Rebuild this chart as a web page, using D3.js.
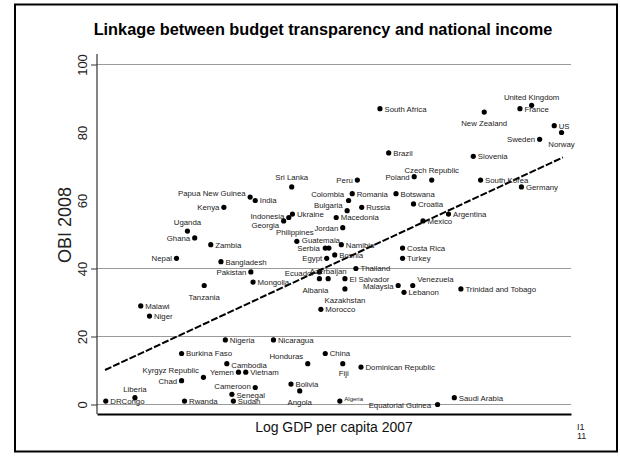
<!DOCTYPE html>
<html>
<head>
<meta charset="utf-8">
<script src="https://cdn.jsdelivr.net/npm/d3@7"></script>
<style>
  html, body { margin: 0; padding: 0; background: #fff; }
  svg { display: block; font-family: "Liberation Sans", Arial, Helvetica, sans-serif; }
</style>
</head>
<body>
<svg id="chart" width="620" height="456"></svg>
<script>
// Open Budget Index 2008 vs log GDP per capita 2007
const countries = [
  "United Kingdom", "France", "New Zealand", "US", "Norway", "Sweden",
  "South Africa", "Brazil", "Slovenia", "Czech Republic", "Poland", "Peru",
  "South Korea", "Germany", "Romania", "Botswana", "Croatia", "Russia",
  "Colombia", "Bulgaria", "Macedonia", "Jordan", "Argentina", "Mexico",
  "Sri Lanka", "India", "Papua New Guinea", "Kenya", "Indonesia", "Ukraine",
  "Georgia", "Philippines", "Guatemala", "Serbia", "Egypt", "Namibia",
  "Bosnia", "Costa Rica", "Turkey", "Thailand", "El Salvador", "Malaysia",
  "Venezuela", "Lebanon", "Trinidad and Tobago", "Kazakhstan", "Morocco", "Ecuador",
  "Albania", "Azerbaijan", "Bangladesh", "Pakistan", "Mongolia", "Tanzania",
  "Malawi", "Niger", "Nepal", "Zambia", "Ghana", "Uganda",
  "Nigeria", "Nicaragua", "Burkina Faso", "Honduras", "China", "Fiji",
  "Dominican Republic", "Cambodia", "Yemen", "Vietnam", "Kyrgyz Republic", "Chad",
  "Liberia", "DRCongo", "Rwanda", "Cameroon", "Senegal", "Sudan",
  "Bolivia", "Angola", "Algeria", "Equatorial Guinea", "Saudi Arabia"
];

const logGdp = [
  10.86, 10.70, 10.21, 11.17, 11.27, 10.97,
  8.78, 8.90, 10.06, 9.49, 9.25, 8.47,
  10.16, 10.72, 8.40, 9.00, 9.24, 8.53,
  8.35, 8.33, 8.18, 8.27, 9.72, 9.37,
  7.57, 7.07, 7.00, 6.64, 7.53, 7.58,
  7.46, 7.64, 8.08, 8.03, 8.05, 8.25,
  8.16, 9.09, 9.09, 8.45, 8.30, 9.03,
  9.23, 9.11, 9.89, 8.30, 7.97, 7.95,
  7.95, 8.07, 6.60, 7.01, 7.04, 6.37,
  5.50, 5.62, 5.99, 6.46, 6.24, 6.14,
  6.66, 7.32, 6.06, 7.79, 8.03, 8.27,
  8.52, 6.68, 6.84, 6.94, 6.36, 6.06,
  5.42, 5.02, 6.10, 7.07, 6.75, 6.77,
  7.56, 7.68, 8.23, 9.57, 9.80
];

const obiScore = [
  88, 87, 86, 82, 80, 78,
  87, 74, 73, 66, 67, 66,
  66, 64, 62, 62, 59, 58,
  60, 57, 55, 52, 56, 54,
  64, 60, 61, 58, 55, 56,
  54, 48, 46, 46, 43, 47,
  44, 46, 43, 40, 37, 35,
  35, 33, 34, 34, 28, 39,
  37, 37, 42, 39, 36, 35,
  29, 26, 43, 47, 49, 51,
  19, 19, 15, 12, 15, 12,
  11, 12, 9.5, 9.5, 8, 7,
  2, 1, 1, 5, 3, 1,
  6, 4, 1, 0, 2
];

// fitted regression line, two end points (log GDP, OBI)
const fitX = [5.01, 11.29];
const fitY = [10.15, 72.7];

const yTickValues = [0, 20, 40, 60, 80, 100];
const gridValues = [0, 20, 40, 100];

const titleText = "Linkage between budget transparency and national income";
const xTitle = "Log GDP per capita 2007";
const yTitle = "OBI 2008";
const footer = ["I1", "11"];

// label placement: r = right, l = left, t = above, b = below, with optional nudge
const labelPlace = {
  "United Kingdom": ["t"], "New Zealand": ["b"], "Norway": ["b"], "Sweden": ["l"],
  "Czech Republic": ["t", 0, -2], "Poland": ["l"], "Peru": ["l"],
  "Colombia": ["l", 0, -6], "Bulgaria": ["l", 0, -6], "Jordan": ["l"],
  "Sri Lanka": ["t", 0, -1], "Papua New Guinea": ["l", 0, -4], "Kenya": ["l"],
  "Indonesia": ["l", 0, -1], "Georgia": ["l", 0, 4], "Philippines": ["t", -2, -1],
  "Guatemala": ["t", -8, 0], "Serbia": ["l", -1, 0], "Egypt": ["l"],
  "Malaysia": ["l", 0, 0.5], "Venezuela": ["r", 0, -6], "Kazakhstan": ["b"],
  "Ecuador": ["l", -1, 1], "Albania": ["b", -4, 0], "Azerbaijan": ["t", 0, 1],
  "Pakistan": ["l"], "Tanzania": ["b"], "Nepal": ["l"], "Ghana": ["l"],
  "Uganda": ["t", 0, -1], "Honduras": ["l", 0, -8], "Fiji": ["b", 1, -2],
  "Yemen": ["l"], "Kyrgyz Republic": ["l", 0, -7], "Chad": ["l"],
  "Liberia": ["t"], "Cameroon": ["l", 0, -1], "Angola": ["b"], "Algeria": ["r", 0, -3],
  "Equatorial Guinea": ["l", -2, 1], "Cambodia": ["r", 0, 1], "Senegal": ["r", 0, 0.5]
};

const points = countries.map((c, i) => ({ name: c, x: logGdp[i], y: obiScore[i] }));

const svg = d3.select("#chart");

const x = d3.scaleLinear().domain([4.9, 11.4]).range([97, 571]);
const y = d3.scaleLinear().domain([0, 100]).range([404.5, 64.5]);

// outer frame
svg.append("rect")
  .attr("x", 15).attr("y", 4.5)
  .attr("width", 602).attr("height", 447)
  .attr("fill", "#fff").attr("stroke", "#000").attr("stroke-width", 2);

// title
svg.append("text")
  .attr("x", 323).attr("y", 35)
  .attr("text-anchor", "middle")
  .attr("font-weight", "bold").attr("font-size", 16.3)
  .attr("fill", "#000")
  .text(titleText);

// horizontal grid lines
svg.append("g").selectAll("line").data(gridValues).join("line")
  .attr("x1", x.range()[0]).attr("x2", x.range()[1])
  .attr("y1", d => y(d)).attr("y2", d => y(d))
  .attr("stroke", "#9a9a9a").attr("stroke-width", 1);

// y axis
const yAxis = svg.append("g")
  .attr("transform", `translate(${x.range()[0]},0)`)
  .call(d3.axisLeft(y).tickValues(yTickValues).tickSize(6).tickSizeOuter(0).tickFormat(d3.format("d")));
yAxis.select(".domain").attr("d", `M0,54V414`).attr("stroke", "#333").attr("stroke-width", 1.2);
yAxis.selectAll(".tick line")
  .attr("stroke", "#333")
  .attr("display", d => gridValues.includes(d) ? null : "none");
yAxis.selectAll(".tick text")
  .attr("x", null).attr("dy", null)
  .attr("transform", "translate(-10,0) rotate(-90)")
  .attr("text-anchor", "middle")
  .attr("font-size", 13)
  .attr("font-family", "\"Liberation Sans\", Arial, sans-serif")
  .attr("fill", "#222");

// x axis (no tick labels)
const xAxis = svg.append("g")
  .attr("transform", "translate(0,414)")
  .call(d3.axisBottom(x).tickValues([]).tickSizeOuter(0));
xAxis.select(".domain").attr("stroke", "#000").attr("stroke-width", 2);

// axis titles
svg.append("text")
  .attr("transform", "translate(71,225) rotate(-90)")
  .attr("text-anchor", "middle")
  .attr("font-size", 18).attr("fill", "#222")
  .text(yTitle);

svg.append("text")
  .attr("x", 334).attr("y", 432)
  .attr("text-anchor", "middle")
  .attr("font-size", 14).attr("fill", "#111")
  .text(xTitle);

svg.append("g").selectAll("text").data(footer).join("text")
  .attr("x", 577).attr("y", (d, i) => 430 + i * 8.5)
  .attr("font-size", 9).attr("fill", "#222")
  .text(d => d);

// regression line
svg.append("line")
  .attr("x1", x(fitX[0])).attr("y1", y(fitY[0]))
  .attr("x2", x(fitX[1])).attr("y2", y(fitY[1]))
  .attr("stroke", "#000").attr("stroke-width", 2)
  .attr("stroke-dasharray", "7,2");

// country markers
svg.append("g").selectAll("circle").data(points).join("circle")
  .attr("cx", d => x(d.x)).attr("cy", d => y(d.y))
  .attr("r", 2.6).attr("fill", "#000");

// country labels
svg.append("g").selectAll("text").data(points).join("text")
  .each(function (d) {
    const p = labelPlace[d.name] || ["r"];
    const side = p[0], dx = p[1] || 0, dy = p[2] || 0;
    let tx = x(d.x), ty = y(d.y), anchor = "start";
    if (side === "r") { tx += 4.5; ty += 2.8; }
    else if (side === "l") { tx -= 4.5; ty += 2.8; anchor = "end"; }
    else if (side === "t") { ty -= 5.5; anchor = "middle"; }
    else if (side === "b") { ty += 14; anchor = "middle"; }
    d3.select(this)
      .attr("x", tx + dx).attr("y", ty + dy)
      .attr("text-anchor", anchor)
      .attr("font-size", d.name === "Algeria" ? 6 : 7.8)
      .attr("fill", "#222")
      .text(d.name);
  });
</script>
</body>
</html>
